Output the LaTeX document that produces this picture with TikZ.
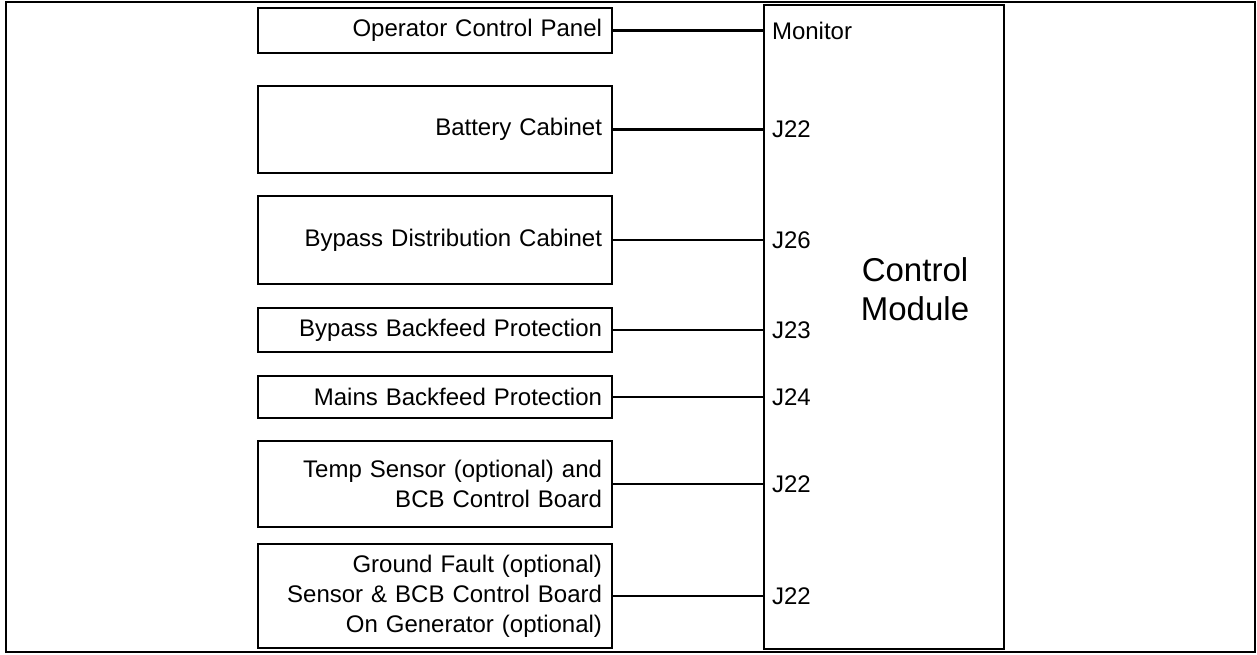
\documentclass[tikz,border=0pt]{standalone}
\usepackage{fontspec}
\setmainfont{Liberation Sans}
\usetikzlibrary{calc}

\begin{document}
\begin{tikzpicture}[x=1pt, y=-1pt,
        unit/.style={draw, line width=2.2pt, minimum width=354pt, text width=334pt, align=right, inner xsep=10pt, inner ysep=0pt, font=\fontsize{24}{30}\selectfont},
        wire/.style={line width=2.2pt},
        port/.style={anchor=west, inner sep=0pt, xshift=8pt, font=\fontsize{24}{30}\selectfont}]

        \useasboundingbox (0,0) rectangle (1257,654);

        % Draw the outer frame
        \draw[line width=2.2pt] (6,2) rectangle (1255,652);

        % Draw the control module
        \node (cm) [draw, line width=2.2pt, minimum width=240pt, minimum height=644pt, inner sep=0pt] at (884,327) {};
        \node (cmname) [align=center, font=\fontsize{33}{39}\selectfont] at (915,289) {Control\\Module};

        % Draw the connected units
        \node (ocp) [unit, minimum height=45pt] at (435,30.5) {Operator Control Panel};
        \node (bat) [unit, minimum height=87pt] at (435,129.5) {Battery Cabinet};
        \node (bdc) [unit, minimum height=88pt] at (435,240) {Bypass Distribution Cabinet};
        \node (bbp) [unit, minimum height=44pt] at (435,330) {Bypass Backfeed Protection};
        \node (mbp) [unit, minimum height=42pt] at (435,397) {Mains Backfeed Protection};
        \node (tmp) [unit, minimum height=86pt] at (435,484) {Temp Sensor (optional) and\\BCB Control Board};
        \node (gfs) [unit, minimum height=104pt] at (435,596) {Ground Fault (optional)\\Sensor \& BCB Control Board\\On Generator (optional)};

        % Draw the cables and the ports
        \draw[wire] (ocp.east) -- (ocp.east -| cm.west) node[port] (pmon) {Monitor};
        \draw[wire] (bat.east) -- (bat.east -| cm.west) node[port] (pbat) {J22};
        \draw[wire] (bdc.east) -- (bdc.east -| cm.west) node[port] (pbdc) {J26};
        \draw[wire] (bbp.east) -- (bbp.east -| cm.west) node[port] (pbbp) {J23};
        \draw[wire] (mbp.east) -- (mbp.east -| cm.west) node[port] (pmbp) {J24};
        \draw[wire] (tmp.east) -- (tmp.east -| cm.west) node[port] (ptmp) {J22};
        \draw[wire] (gfs.east) -- (gfs.east -| cm.west) node[port] (pgfs) {J22};

    \end{tikzpicture}
\end{document}
